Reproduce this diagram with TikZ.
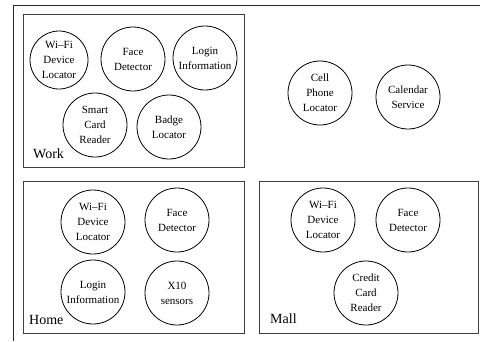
\documentclass[tikz,border=0pt]{standalone}
\usepackage{fontspec}
\setmainfont{Liberation Serif}
\begin{document}
\begin{tikzpicture}[x=1pt,y=-1pt]
\tikzset{
  svc/.style={draw=black, line width=0.8pt, circle, inner sep=0pt, minimum size=64pt,
    align=center, font=\fontsize{11}{15}\selectfont},
  zone/.style={draw=black!75, line width=0.9pt, rectangle, inner sep=0pt},
  zonelabel/.style={anchor=base west, inner sep=0pt, font=\fontsize{14}{16}\selectfont},
  frame/.style={draw=black!85, line width=1.3pt}
}
\useasboundingbox (0,0) rectangle (480,341);
% outer frame
\coordinate (fc) at (13.3,5.3);
\coordinate (fr) at (480,5.3);
\coordinate (fb) at (13.3,341);
\draw[frame] (fb) -- (fc) -- (fr);
% zones
\node[zone, minimum width=220.7pt, minimum height=153pt] (work) at (133.7,90.5) {};
\node[zone, minimum width=220.7pt, minimum height=152pt] (home) at (133.7,257) {};
\node[zone, minimum width=219pt, minimum height=152pt] (mall) at (368.5,257) {};
\node[zonelabel] (worklbl) at (33,158) {Work};
\node[zonelabel] (homelbl) at (29,324) {Home};
\node[zonelabel] (malllbl) at (270,323) {Mall};
% work services
\node[svc, minimum size=58pt] (w1) at (59,60) {Wi--Fi\\Device\\Locator};
\node[svc] (w2) at (133,59) {Face\\Detector};
\node[svc] (w3) at (205,58) {Login\\Information};
\node[svc] (w4) at (95,125) {Smart\\Card\\Reader};
\node[svc] (w5) at (169,127) {Badge\\Locator};
% free services
\node[svc] (c1) at (320,93) {Cell\\Phone\\Locator};
\node[svc] (c2) at (408,97) {Calendar\\Service};
% home services
\node[svc] (h1) at (93,222) {Wi--Fi\\Device\\Locator};
\node[svc] (h2) at (177,220) {Face\\Detector};
\node[svc] (h3) at (93,292) {Login\\Information};
\node[svc] (h4) at (177,293) {X10\\sensors};
% mall services
\node[svc] (m1) at (323,220) {Wi--Fi\\Device\\Locator};
\node[svc] (m2) at (408,220) {Face\\Detector};
\node[svc] (m3) at (366,293) {Credit\\Card\\Reader};
\end{tikzpicture}
\end{document}
